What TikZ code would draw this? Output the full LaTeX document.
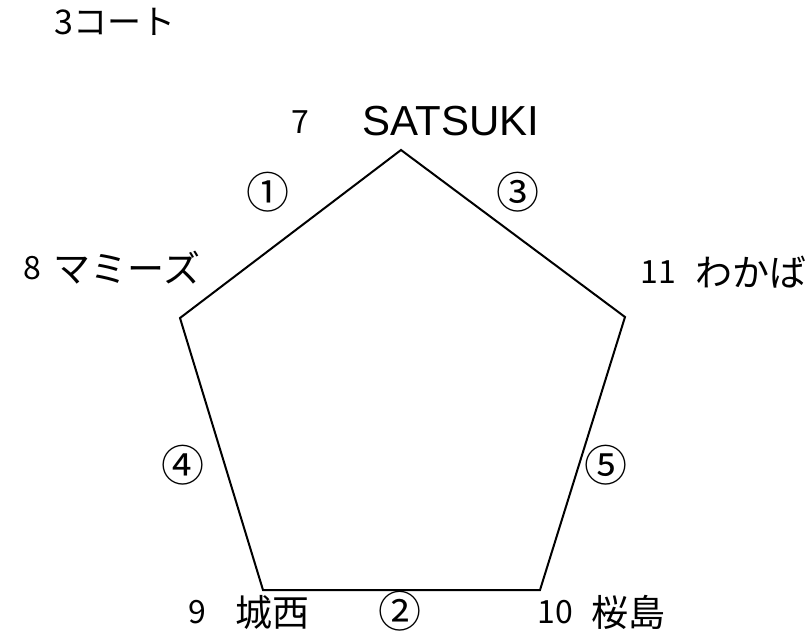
\documentclass[tikz,border=0pt]{standalone}
\usepackage{fontspec}
\setmainfont{Noto Sans CJK JP}
\newfontfamily\latinfont{Liberation Sans}
\begin{document}
\begin{tikzpicture}[x=1pt,y=-1pt,
  teamlbl/.style={font=\fontsize{37}{37}\selectfont,inner sep=0pt,anchor=center},
  numlbl/.style={font=\fontsize{32}{32}\selectfont,inner sep=0pt,anchor=center},
  circlbl/.style={font=\fontsize{43}{43}\selectfont,inner sep=0pt,anchor=center},
  sideline/.style={draw=black,line width=2pt,line join=miter}]
\useasboundingbox (0,0) rectangle (811,636);
\node[font=\fontsize{34}{34}\selectfont,inner sep=0pt] (title) at (115,22) {3コート};
\coordinate (A) at (401,150);
\coordinate (B) at (625,317);
\coordinate (C) at (540,590);
\coordinate (D) at (263,590);
\coordinate (E) at (180,318);
\draw[sideline] (A) -- (B) -- (C) -- (D) -- (E) -- cycle;
\node[numlbl] (n7) at (300,122) {7};
\node[teamlbl,font=\latinfont\fontsize{42}{42}\selectfont] (satsuki) at (451,121) {SATSUKI};
\node[numlbl] (n8) at (32,268) {8};
\node[teamlbl] (mamies) at (127,268) {マミーズ};
\node[numlbl] (n11) at (658,272) {11};
\node[teamlbl] (wakaba) at (751,272) {わかば};
\node[numlbl] (n9) at (197,612) {9};
\node[teamlbl] (josai) at (272,612) {城西};
\node[numlbl] (n10) at (555,612) {10};
\node[teamlbl] (sakurajima) at (628,612) {桜島};
\node[circlbl] (e1) at (268,192) {①};
\node[circlbl] (e3) at (518,192) {③};
\node[circlbl] (e4) at (183,465) {④};
\node[circlbl] (e5) at (606,465) {⑤};
\node[circlbl] (e2) at (400,611) {②};
\end{tikzpicture}
\end{document}
